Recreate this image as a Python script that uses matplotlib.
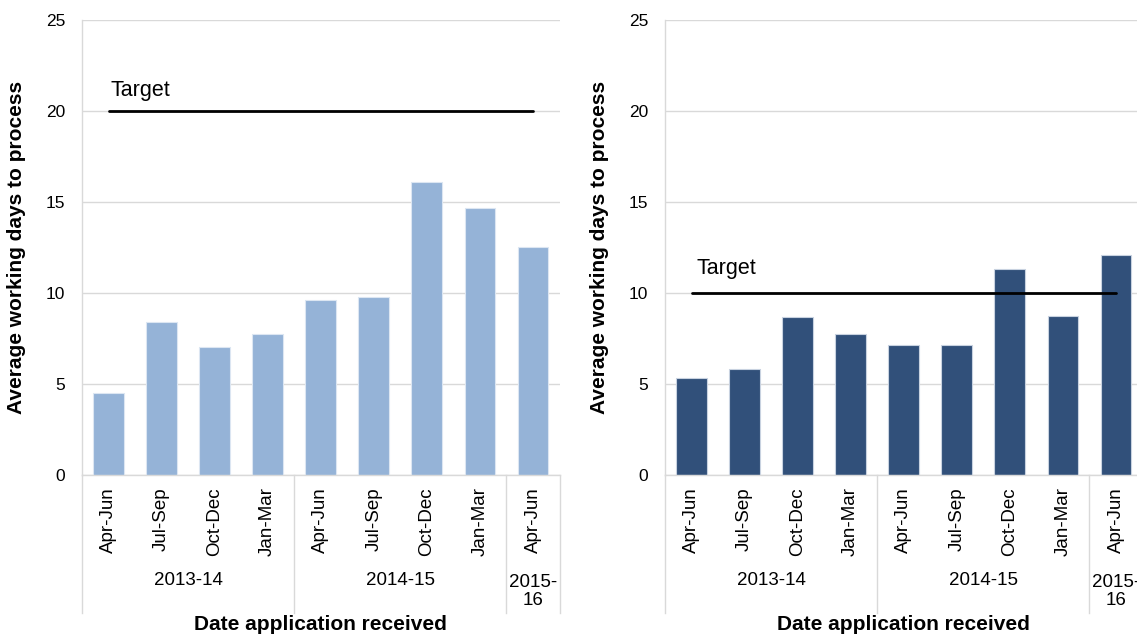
import matplotlib
matplotlib.use("Agg")
import matplotlib.pyplot as plt
import matplotlib.transforms as mtransforms

plt.rcParams["font.family"] = ["Liberation Sans", "DejaVu Sans"]

quarters = ["Apr-Jun", "Jul-Sep", "Oct-Dec", "Jan-Mar",
            "Apr-Jun", "Jul-Sep", "Oct-Dec", "Jan-Mar", "Apr-Jun"]
years = ["2013-14", "2014-15", "2015-\n16"]
year_sizes = [4, 4, 1]

left_values = [4.5, 8.4, 7.05, 7.75, 9.6, 9.8, 16.1, 14.65, 12.55]
right_values = [5.35, 5.8, 8.67, 7.75, 7.13, 7.13, 11.33, 8.73, 12.08]
left_target = 20
right_target = 10

grid_col = "#D9D9D9"

fig = plt.figure(figsize=(11.37, 6.36), dpi=100)
ax_l = fig.add_axes([82 / 1137, 161 / 636, 477.5 / 1137, 455 / 636])
ax_r = fig.add_axes([665 / 1137, 161 / 636, 477.5 / 1137, 455 / 636])


def draw_panel(ax, values, target, colour, edge, target_dy, target_dx):
    x = list(range(len(values)))
    ax.bar(x, values, width=0.58, color=colour, edgecolor=edge,
           linewidth=0.8, zorder=2)
    ax.plot([x[0], x[-1]], [target, target], color="black", lw=2.0,
            solid_capstyle="round", zorder=3)
    ax.text(x[0] + target_dx, target + target_dy, "Target", fontsize=15.5,
            ha="left", va="baseline")

    ax.set_xlim(-0.5, len(values) - 0.5)
    ax.set_ylim(0, 25)
    ax.set_yticks([0, 5, 10, 15, 20, 25])
    ax.tick_params(axis="y", length=0, pad=12, labelsize=12.5)
    ax.set_xticks(x)
    ax.set_xticklabels(quarters, rotation=90, fontsize=13.5)
    ax.tick_params(axis="x", length=0, pad=9)
    ax.yaxis.grid(True, color=grid_col, lw=1.0, zorder=0)
    ax.set_axisbelow(True)
    for s in ["top", "right"]:
        ax.spines[s].set_visible(False)
    for s in ["left", "bottom"]:
        ax.spines[s].set_color(grid_col)
        ax.spines[s].set_linewidth(1.0)

    # multi-level category axis
    trans = mtransforms.blended_transform_factory(ax.transData, ax.transAxes)
    start = -0.5
    ax.plot([start, start], [0, -0.303], color=grid_col, lw=1.0,
            transform=trans, clip_on=False)
    for name, n in zip(years, year_sizes):
        end = start + n
        ax.plot([end, end], [0, -0.303], color=grid_col, lw=1.0,
                transform=trans, clip_on=False)
        ax.text((start + end) / 2, -0.256 if "\n" in name else -0.231, name,
                fontsize=13.5, ha="center", va="center", transform=trans,
                linespacing=1.1)
        start = end

    ax.set_ylabel("Average working days to process", fontsize=15,
                  fontweight="bold", labelpad=14)
    ax.set_xlabel("Date application received", fontsize=15,
                  fontweight="bold")
    ax.xaxis.set_label_coords(0.5, -0.308)


draw_panel(ax_l, left_values, left_target, "#95B3D7", "#DCE6F2", 0.8, 0.04)
draw_panel(ax_r, right_values, right_target, "#31507A", "#C8D2E0", 1.05, 0.1)

fig.savefig("out.png", dpi=100)
